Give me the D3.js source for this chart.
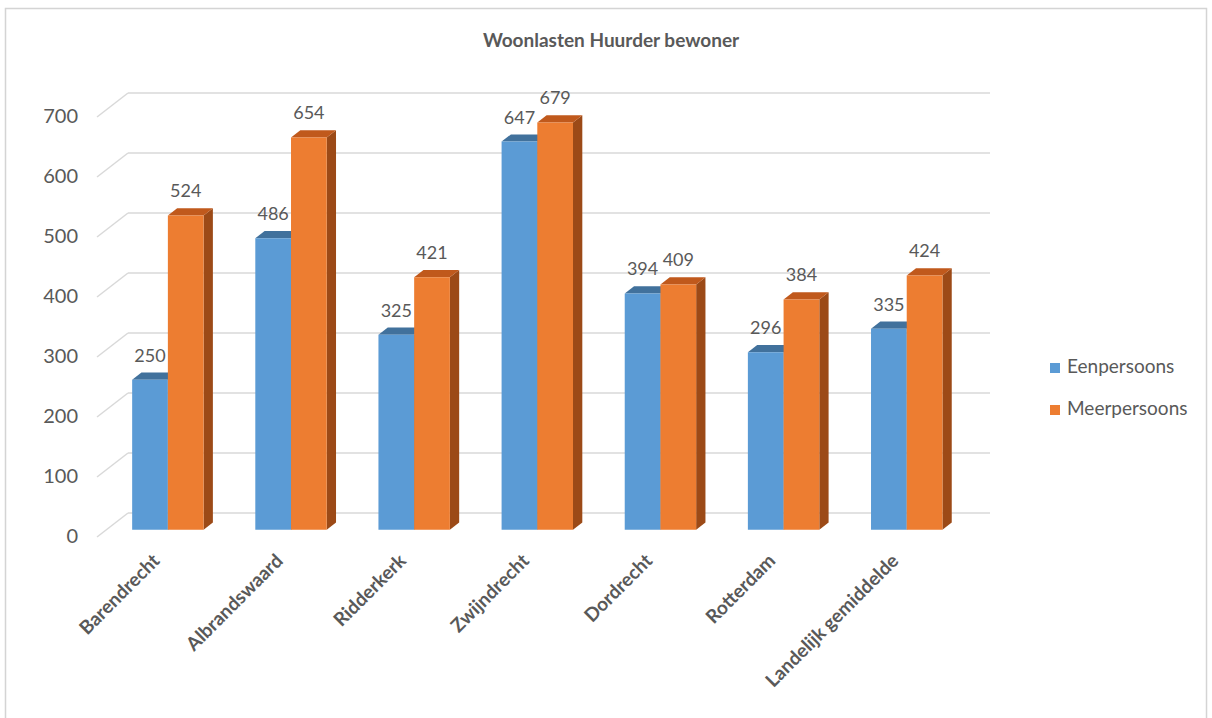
<!DOCTYPE html>
<html>
<head>
<meta charset="utf-8">
<script src="https://cdn.jsdelivr.net/npm/d3@7"></script>
<style>
  body { margin: 0; background: #fff; }
  text { font-family: Lato, "Open Sans", sans-serif; }
</style>
</head>
<body>
<div id="chart"></div>
<script>
// data
var categories = ["Barendrecht", "Albrandswaard", "Ridderkerk", "Zwijndrecht", "Dordrecht", "Rotterdam", "Landelijk gemiddelde"];
var seriesNames = ["Eenpersoons", "Meerpersoons"];
var eenpersoons = [250, 486, 325, 647, 394, 296, 335];
var meerpersoons = [524, 654, 421, 679, 409, 384, 424];
var yTicks = [0, 100, 200, 300, 400, 500, 600, 700];

var seriesValues = [eenpersoons, meerpersoons];
var front = ["#5B9BD5", "#ED7D31"];
var top_ = ["#41719C", "#C0591C"];
var side = ["#3F6D97", "#9C4A17"];

var W = 1212, H = 718;
var svg = d3.select("#chart").append("svg").attr("width", W).attr("height", H);

// chart frame
svg.append("rect").attr("x", 5.5).attr("y", 8.5).attr("width", 1201).attr("height", 720)
  .attr("fill", "#fff").attr("stroke", "#d4d4d4").attr("stroke-width", 1.5);

svg.append("text").attr("x", 611).attr("y", 47).attr("text-anchor", "middle")
  .attr("font-size", 19).attr("font-weight", "bold").attr("fill", "#595959")
  .text("Woonlasten Huurder bewoner");

// oblique 3d: depth vector for the whole floor
var DX = 31, DY = 24;
var y = d3.scaleLinear().domain([0, 700]).range([537, 117]);
var x = d3.scaleBand().domain(categories).range([97, 959]).paddingInner(0.42).paddingOuter(0.21);
var xs = d3.scaleBand().domain(seriesNames).range([0, x.bandwidth()]);

function P(px, v, d) { return [px + d * DX, y(v) - d * DY]; }

// gridlines: back wall + left wall diagonals
var g = svg.append("g");
yTicks.forEach(function(v) {
  var a = P(x.range()[0], v, 1), b = P(x.range()[1], v, 1), c = P(x.range()[0], v, 0);
  g.append("line").attr("x1", a[0]).attr("y1", a[1]).attr("x2", b[0]).attr("y2", b[1])
    .attr("stroke", "#d9d9d9").attr("stroke-width", 1.5);
  g.append("line").attr("x1", c[0]).attr("y1", c[1]).attr("x2", a[0]).attr("y2", a[1])
    .attr("stroke", "#d9d9d9").attr("stroke-width", 1.5);
  svg.append("text").attr("x", 78).attr("y", c[1] + 1).attr("text-anchor", "end")
    .attr("dominant-baseline", "middle").attr("font-size", 20).attr("fill", "#595959").text(v);
});

var d0 = 0.3, d1 = 0.6;
function poly(pts) { return pts.map(function(p) { return p.join(","); }).join(" "); }

var bars = svg.append("g");
var labels = svg.append("g");
categories.forEach(function(cat, i) {
  seriesNames.forEach(function(s, j) {
    var v = seriesValues[j][i];
    var xl = x(cat) + xs(s), xr = xl + xs.bandwidth();
    var f1 = P(xl, 0, d0), f2 = P(xr, 0, d0), f3 = P(xr, v, d0), f4 = P(xl, v, d0);
    var b2 = P(xr, 0, d1), b3 = P(xr, v, d1), b4 = P(xl, v, d1);
    bars.append("polygon").attr("points", poly([f2, b2, b3, f3])).attr("fill", side[j]);
    bars.append("polygon").attr("points", poly([f4, f3, b3, b4])).attr("fill", top_[j]);
    bars.append("polygon").attr("points", poly([f1, f2, f3, f4])).attr("fill", front[j]);
    labels.append("text").attr("x", (xl + xr) / 2 + d0 * DX).attr("y", f4[1] - 18)
      .attr("text-anchor", "middle").attr("font-size", 18).attr("fill", "#595959").text(v);
  });
});

// category labels, rotated
categories.forEach(function(cat) {
  var cx = x(cat) + x.bandwidth() / 2 + d0 * DX;
  svg.append("text").attr("transform", "translate(" + (cx - 7) + ",562) rotate(-45)")
    .attr("text-anchor", "end").attr("font-size", 19).attr("font-weight", "bold")
    .attr("fill", "#595959").text(cat);
});

// legend
seriesNames.forEach(function(s, j) {
  var ly = 368 + j * 42;
  svg.append("rect").attr("x", 1050).attr("y", ly - 5).attr("width", 10).attr("height", 10).attr("fill", front[j]);
  svg.append("text").attr("x", 1067).attr("y", ly).attr("dominant-baseline", "middle")
    .attr("font-size", 19).attr("fill", "#595959").text(s);
});
</script>
</body>
</html>
